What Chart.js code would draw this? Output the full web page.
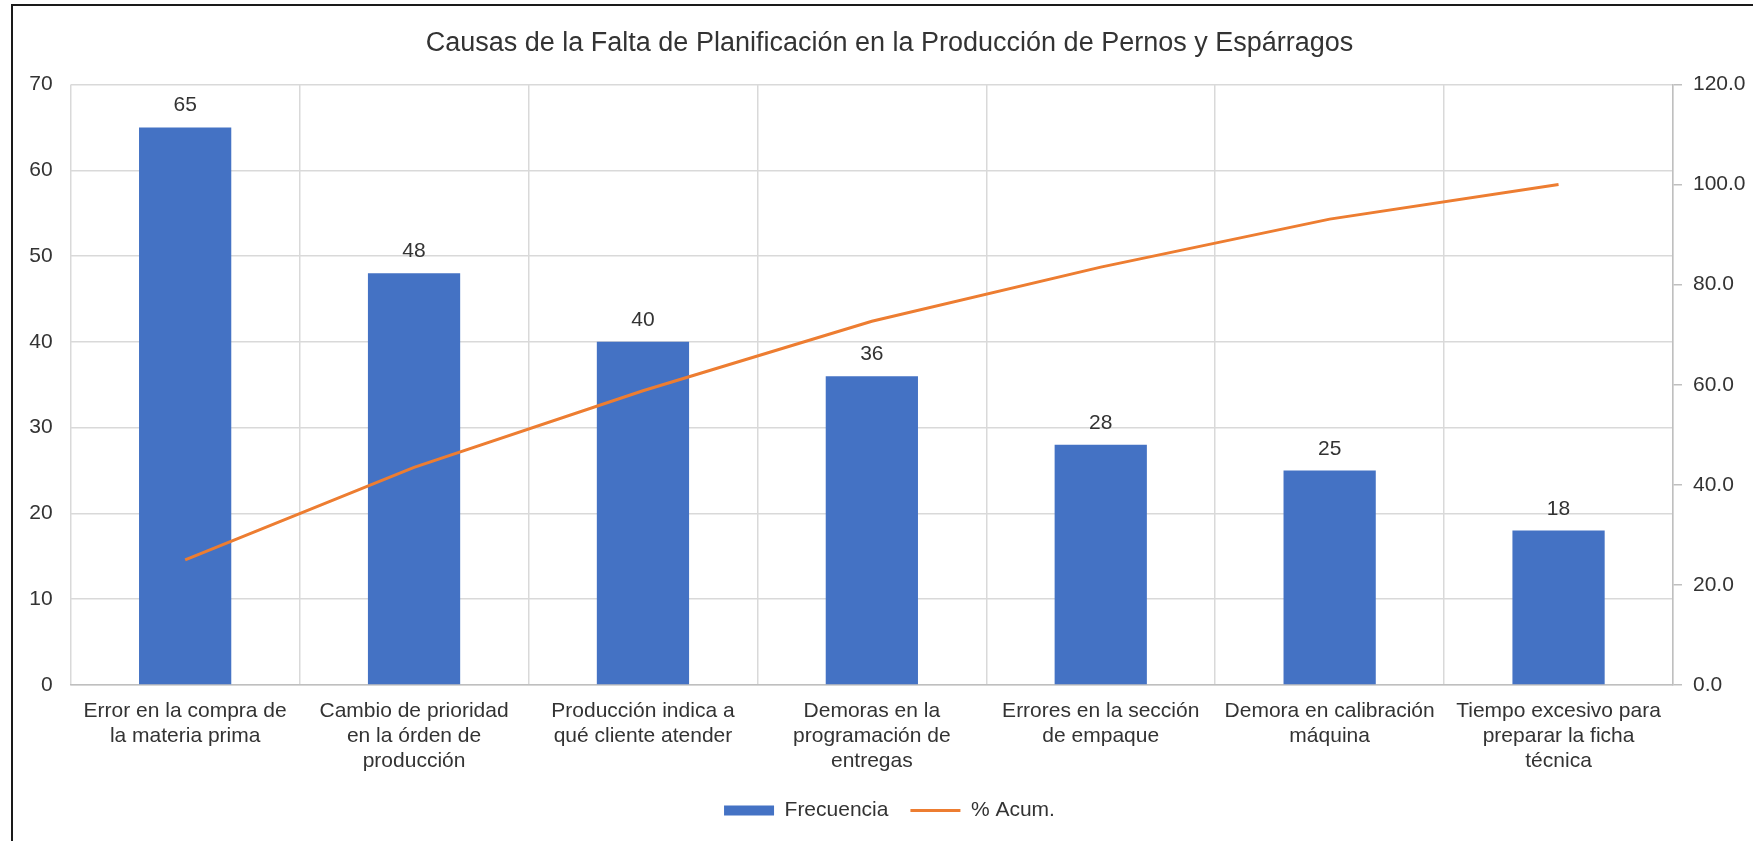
<!DOCTYPE html>
<html>
<head>
<meta charset="utf-8">
<script src="https://cdn.jsdelivr.net/npm/chart.js@4.4.1/dist/chart.umd.min.js"></script>
<style>
  html, body { margin: 0; padding: 0; background: #ffffff; }
  canvas { display: block; }
</style>
</head>
<body>
<canvas id="c" width="1753" height="841"></canvas>
<script>
const title = "Causas de la Falta de Planificación en la Producción de Pernos y Espárragos";
const categories = [
  ["Error en la compra de", "la materia prima"],
  ["Cambio de prioridad", "en la órden de", "producción"],
  ["Producción indica a", "qué cliente atender"],
  ["Demoras en la", "programación de", "entregas"],
  ["Errores en la sección", "de empaque"],
  ["Demora en calibración", "máquina"],
  ["Tiempo excesivo para", "preparar la ficha", "técnica"]
];
const frecuencia = [65, 48, 40, 36, 28, 25, 18];
const acumulado = [25.0, 43.5, 58.8, 72.7, 83.5, 93.1, 100.0];
const seriesNames = ["Frecuencia", "% Acum."];

const FONT = "'Liberation Sans', Arial, sans-serif";
const TEXT = "#333333";
const BLUE = "#4472C4";
const ORANGE = "#ED7D31";

const frame = {
  id: 'frame',
  beforeDraw(chart) {
    const ctx = chart.ctx;
    ctx.save();
    ctx.fillStyle = '#ffffff';
    ctx.fillRect(0, 0, chart.width, chart.height);
    ctx.strokeStyle = '#1a1a1a';
    ctx.lineWidth = 2;
    ctx.beginPath();
    ctx.moveTo(12, chart.height + 5);
    ctx.lineTo(12, 5);
    ctx.lineTo(chart.width + 5, 5);
    ctx.stroke();
    ctx.restore();
  }
};

const barLabels = {
  id: 'barLabels',
  afterDatasetsDraw(chart) {
    const ctx = chart.ctx;
    const meta = chart.getDatasetMeta(0);
    ctx.save();
    ctx.font = "21px " + FONT;
    ctx.fillStyle = TEXT;
    ctx.textAlign = 'center';
    ctx.textBaseline = 'alphabetic';
    meta.data.forEach((el, i) => {
      ctx.fillText(String(chart.data.datasets[0].data[i]), el.x, el.y - 16);
    });
    ctx.restore();
  }
};

new Chart(document.getElementById('c'), {
  data: {
    labels: categories,
    datasets: [
      {
        type: 'bar',
        label: seriesNames[0],
        data: frecuencia,
        backgroundColor: BLUE,
        borderWidth: 0,
        barPercentage: 0.403,
        categoryPercentage: 1.0,
        yAxisID: 'y',
        order: 2
      },
      {
        type: 'line',
        label: seriesNames[1],
        data: acumulado,
        borderColor: ORANGE,
        backgroundColor: ORANGE,
        borderWidth: 3,
        pointRadius: 0,
        tension: 0,
        yAxisID: 'y1',
        order: 1
      }
    ]
  },
  options: {
    responsive: false,
    animation: false,
    devicePixelRatio: 1,
    layout: { padding: { left: 26, right: 0, top: 0, bottom: 10 } },
    plugins: {
      title: {
        display: true,
        text: title,
        color: TEXT,
        font: { family: FONT, size: 27, weight: 'normal', lineHeight: 1.2 },
        padding: { top: 27.3, bottom: 24.8 }
      },
      legend: {
        display: true,
        position: 'bottom',
        labels: {
          color: TEXT,
          font: { family: FONT, size: 21 },
          usePointStyle: true,
          pointStyleWidth: 50,
          boxHeight: 10,
          padding: 22,
          generateLabels(chart) {
            return [
              { text: seriesNames[0], fillStyle: BLUE, strokeStyle: BLUE, lineWidth: 0, pointStyle: 'rect', datasetIndex: 0, fontColor: TEXT },
              { text: seriesNames[1], fillStyle: ORANGE, strokeStyle: ORANGE, lineWidth: 3, pointStyle: 'line', datasetIndex: 1, fontColor: TEXT }
            ];
          }
        }
      },
      tooltip: { enabled: false }
    },
    scales: {
      x: {
        type: 'category',
        offset: true,
        grid: { display: true, offset: true, color: '#D9D9D9', lineWidth: 1.5, drawTicks: false },
        border: { display: true, color: '#BFBFBF', width: 1.5 },
        ticks: {
          color: TEXT,
          font: { family: FONT, size: 21, lineHeight: 25 / 21 },
          padding: 13.5,
          maxRotation: 0,
          minRotation: 0,
          autoSkip: false
        },
        afterFit(scale) { scale.height = 93; }
      },
      y: {
        type: 'linear',
        position: 'left',
        min: 0,
        max: 70,
        ticks: { stepSize: 10, color: TEXT, font: { family: FONT, size: 21 }, padding: 18 },
        grid: { color: '#D9D9D9', lineWidth: 1.5, drawTicks: false },
        border: { display: false },
        afterFit(scale) { scale.width = 44.7; }
      },
      y1: {
        type: 'linear',
        position: 'right',
        min: 0,
        max: 120,
        ticks: {
          stepSize: 20,
          color: TEXT,
          font: { family: FONT, size: 21 },
          padding: 11,
          callback: (v) => Number(v).toFixed(1)
        },
        grid: { drawOnChartArea: false, drawTicks: true, tickLength: 9, color: '#BFBFBF', lineWidth: 1.5 },
        border: { display: true, color: '#BFBFBF', width: 1.5 },
        afterFit(scale) { scale.width = 80; }
      }
    }
  },
  plugins: [frame, barLabels]
});
</script>
</body>
</html>
